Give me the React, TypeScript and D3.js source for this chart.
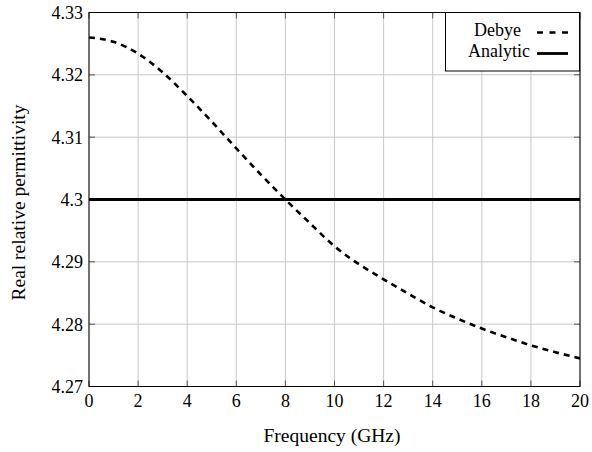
import React from "react";
import * as d3 from "d3";

const freqs = [0, 1, 2, 3, 4, 5, 6, 7, 8, 9, 10, 11, 12, 13, 14, 15, 16, 17, 18, 19, 20];
const debye = [4.326, 4.3253, 4.3234, 4.3204, 4.3166, 4.3125, 4.3082, 4.304, 4.3, 4.2962, 4.2925, 4.2896, 4.2872, 4.2849, 4.2827, 4.2809, 4.2793, 4.2779, 4.2766, 4.2755, 4.2745];
const analytic = [4.3, 4.3];
const analyticFreqs = [0, 20];
const xTicks = [0, 2, 4, 6, 8, 10, 12, 14, 16, 18, 20];
const yTicks = [4.27, 4.28, 4.29, 4.3, 4.31, 4.32, 4.33];
const yTickLabels = ["4.27", "4.28", "4.29", "4.3", "4.31", "4.32", "4.33"];
const legendLabels = ["Debye", "Analytic"];

const W = 592, H = 452;
const L = 89, R = 580, T = 12.5, B = 386.5;
const font = "'Liberation Serif', 'DejaVu Serif', Tinos, 'Times New Roman', Times, serif";
const fs = 18;

export default function App() {
  const x = d3.scaleLinear().domain([0, 20]).range([L, R]);
  const y = d3.scaleLinear().domain([4.27, 4.33]).range([B, T]);
  const line = d3.line<number>().x((_, i) => x(freqs[i])).y((d) => y(d)).curve(d3.curveMonotoneX);
  const aline = d3.line<number>().x((_, i) => x(analyticFreqs[i])).y((d) => y(d));
  const tl = 6;
  const ts = { fontFamily: font };
  return (
    <svg width={W} height={H} style={{ position: "absolute", left: 0, top: 0, background: "#fff" }}>
      <defs>
        <clipPath id="clip"><rect x={L} y={T} width={R - L} height={B - T} /></clipPath>
      </defs>
      {xTicks.map((t) => (
        <line key={"gx" + t} x1={x(t)} x2={x(t)} y1={T} y2={B} stroke="#c8c8c8" strokeWidth={1} />
      ))}
      {yTicks.map((t) => (
        <line key={"gy" + t} x1={L} x2={R} y1={y(t)} y2={y(t)} stroke="#c8c8c8" strokeWidth={1} />
      ))}
      {xTicks.map((t) => (
        <g key={"tx" + t}>
          <line x1={x(t)} x2={x(t)} y1={B} y2={B - tl} stroke="#555" strokeWidth={1} />
          <line x1={x(t)} x2={x(t)} y1={T} y2={T + tl} stroke="#555" strokeWidth={1} />
          <text x={x(t)} y={407} textAnchor="middle" style={ts} fontSize={fs}>{t}</text>
        </g>
      ))}
      {yTicks.map((t, i) => (
        <g key={"ty" + t}>
          <line x1={L} x2={L + tl} y1={y(t)} y2={y(t)} stroke="#555" strokeWidth={1} />
          <line x1={R} x2={R - tl} y1={y(t)} y2={y(t)} stroke="#555" strokeWidth={1} />
          <text x={83} y={y(t) + 6.5} textAnchor="end" style={ts} fontSize={fs}>{yTickLabels[i]}</text>
        </g>
      ))}
      <g clipPath="url(#clip)">
        <path d={aline(analytic) || ""} fill="none" stroke="#000" strokeWidth={2.8} />
        <path d={line(debye) || ""} fill="none" stroke="#000" strokeWidth={2.6} strokeDasharray="6 5" />
      </g>
      <rect x={L} y={T} width={R - L} height={B - T} fill="none" stroke="#000" strokeWidth={1} />
      <g>
        <rect x={445.5} y={12.5} width={134} height={58.5} fill="#fff" stroke="#000" strokeWidth={1} />
        <text x={521} y={36} textAnchor="end" style={ts} fontSize={fs}>{legendLabels[0]}</text>
        <line x1={537} x2={568} y1={32.5} y2={32.5} stroke="#000" strokeWidth={2.6} strokeDasharray="6 6.5" />
        <text x={530} y={57} textAnchor="end" style={ts} fontSize={fs}>{legendLabels[1]}</text>
        <line x1={537} x2={568} y1={53.5} y2={53.5} stroke="#000" strokeWidth={2.8} />
      </g>
      <text x={332} y={441.5} textAnchor="middle" style={ts} fontSize={19.5}>Frequency (GHz)</text>
      <text transform={`translate(25,202.5) rotate(-90)`} textAnchor="middle" style={ts} fontSize={19.5}>Real relative permittivity</text>
    </svg>
  );
}
